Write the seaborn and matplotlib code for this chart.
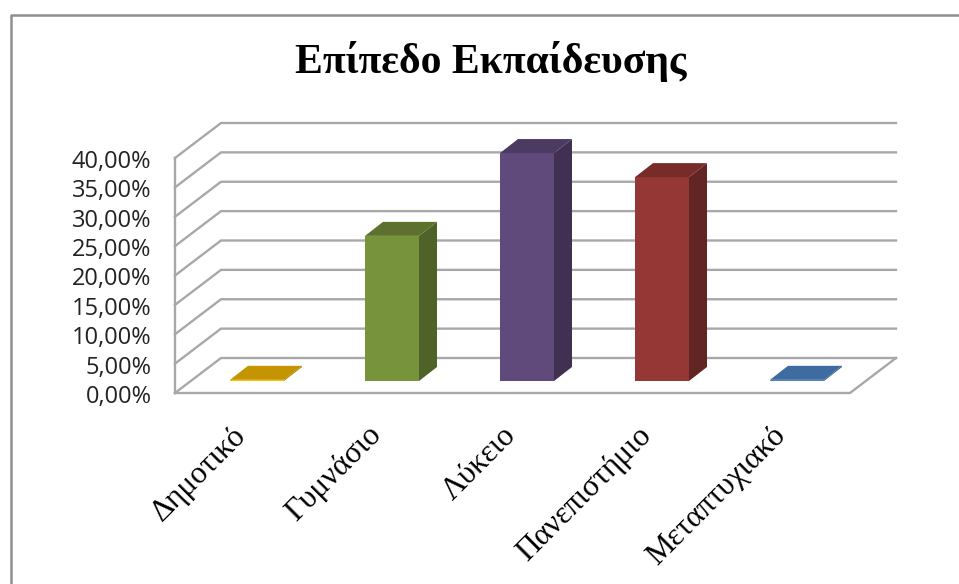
import matplotlib
matplotlib.use("Agg")
import matplotlib.pyplot as plt
from matplotlib.lines import Line2D
from matplotlib.patches import Polygon
import numpy as np
import pandas as pd
import seaborn as sns

title = "Επίπεδο Εκπαίδευσης"
categories = ["Δημοτικό", "Γυμνάσιο", "Λύκειο", "Πανεπιστήμιο", "Μεταπτυχιακό"]
values = [0.2, 24.7, 38.8, 34.7, 0.2]
y_ticks = [0, 5, 10, 15, 20, 25, 30, 35, 40]
front_colors = ["#ffc000", "#77933c", "#604a7b", "#953735", "#4f81bd"]
top_colors = ["#c49500", "#5d702e", "#4b3a61", "#772c2a", "#3f6ca0"]
side_colors = ["#a67f00", "#4f6228", "#403152", "#632523", "#34587f"]

W, H = 959, 584
GRID = "#a8a8a8"
sns.set_theme(style="white")
plt.rcParams["font.family"] = ["Liberation Serif", "DejaVu Serif"]

fig = plt.figure(figsize=(W / 100, H / 100), dpi=100, facecolor="white")

def box(l, r, t, b):
    return [l / W, 1 - b / H, (r - l) / W, (b - t) / H]

# plot-space geometry in pixels
L, R, T, B = 175, 850, 158, 393
WALL_DX, WALL_DY = 46, 35      # depth of the floor
BAR_DX, BAR_DY = 14.5, 12      # offset of the bars' front face
DEPTH_DX, DEPTH_DY = 18, 14    # depth of one bar

ax = fig.add_axes(box(L, R, T, B))
ax.set_xlim(-0.5, len(categories) - 0.5)
ax.set_ylim(y_ticks[0], y_ticks[-1])
ax.patch.set_alpha(0)
for s in ax.spines.values():
    s.set_visible(False)

ux = (len(categories)) / (R - L)          # data units per pixel
uy = (y_ticks[-1] - y_ticks[0]) / (B - T)
x0, x1 = ax.get_xlim()
wx, wy = WALL_DX * ux, WALL_DY * uy
line = dict(color=GRID, lw=1.7, clip_on=False, solid_capstyle="projecting", zorder=1)
ax.plot([x0, x0], [y_ticks[0], y_ticks[-1]], **line)
for v in y_ticks:
    ax.plot([x0, x0 + wx, x1 + wx], [v, v + wy, v + wy], **line)
ax.plot([x0, x1, x1 + wx], [0, 0, wy], **line)

ax.set_yticks(y_ticks)
ax.set_yticklabels([f"{v:.2f}%".replace(".", ",") for v in y_ticks],
                   family="Open Sans", fontsize=17, color="#222222")
ax.tick_params(axis="y", length=0, pad=17)
ax.set_xticks(range(len(categories)))
ax.set_xticklabels(categories, rotation=45, ha="right", rotation_mode="anchor",
                   family="Liberation Serif", fontsize=22.5, color="black")
ax.tick_params(axis="x", length=0, pad=20)
x_offset = matplotlib.transforms.ScaledTranslation(-11 / 100, 0, fig.dpi_scale_trans)
for lab in ax.get_xticklabels():
    lab.set_transform(lab.get_transform() + x_offset)
y_offset = matplotlib.transforms.ScaledTranslation(0, -1 / 100, fig.dpi_scale_trans)
for lab in ax.get_yticklabels():
    lab.set_transform(lab.get_transform() + y_offset)

# bars live in a second axes, shifted into the floor's depth
bx = fig.add_axes(box(L + BAR_DX, R + BAR_DX, T - BAR_DY, B - BAR_DY), sharey=None)
bx.patch.set_alpha(0)
df = pd.DataFrame({"cat": categories, "val": values})
sns.barplot(data=df, x="cat", y="val", hue="cat", palette=front_colors, width=0.4,
            legend=False, ax=bx, saturation=1, linewidth=0, clip_on=False)
bx.set_xlim(-0.5, len(categories) - 0.5)
bx.set_ylim(y_ticks[0], y_ticks[-1])
bx.axis("off")
dx, dy = DEPTH_DX * ux, DEPTH_DY * uy
for p, tc, sc in zip(bx.patches, top_colors, side_colors):
    a, b = p.get_x(), p.get_x() + p.get_width()
    h = p.get_height()
    bx.add_patch(Polygon([(b, 0), (b + dx, dy), (b + dx, h + dy), (b, h)],
                         fc=sc, ec="none", clip_on=False))
    bx.add_patch(Polygon([(a, h), (a + dx, h + dy), (b + dx, h + dy), (b, h)],
                         fc=tc, ec="none", clip_on=False))

fig.text(490.5 / W, 1 - 73 / H, title, ha="center", va="baseline",
         family="Liberation Serif", fontweight="bold", fontsize=30, color="black")

# chart-area frame (top and left only reach inside the crop)
frame = dict(color="#8f8f8f", lw=1.8, transform=fig.transFigure)
fig.add_artist(Line2D([10.5 / W, 10.5 / W, 1], [0, 1 - 14.5 / H, 1 - 14.5 / H], **frame))

fig.savefig("out.png", dpi=100)
